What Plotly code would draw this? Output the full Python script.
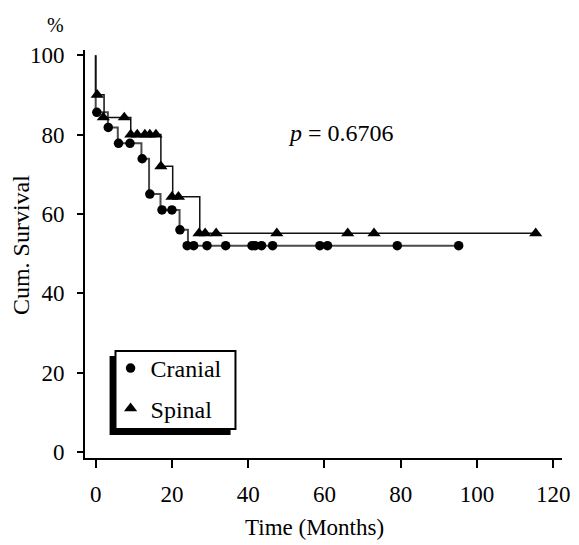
import plotly.graph_objects as go

# Kaplan-Meier step curves (time in months, cumulative survival %)
cranial_t = [0, 0, 3.2, 5.8, 12.0, 14.0, 17.0, 22.0, 24.2, 95.2]
cranial_s = [100, 85.6, 81.8, 77.8, 73.9, 65.0, 61.0, 56.0, 52.0, 52.0]
spinal_t = [0, 0, 2.2, 9.2, 17.1, 20.2, 27.3, 115.4]
spinal_s = [100, 90.0, 84.3, 80.0, 72.0, 64.3, 55.1, 55.1]

# Observation markers
cranial_mt = [0.3, 3.3, 6.0, 9.0, 12.2, 14.2, 17.4, 20.0, 22.1, 24.0, 25.7, 29.2,
              34.1, 41.0, 41.8, 43.5, 46.4, 58.8, 60.8, 79.1, 95.2]
cranial_ms = [85.6, 81.8, 77.8, 77.8, 73.9, 65.0, 61.0, 61.0, 56.0, 52.0, 52.0, 52.0,
              52.0, 52.0, 52.0, 52.0, 52.0, 52.0, 52.0, 52.0, 52.0]
spinal_mt = [0.4, 2.0, 7.5, 9.2, 10.9, 12.9, 14.2, 15.8, 17.1, 20.0, 21.7, 27.1,
             28.7, 31.6, 47.5, 66.1, 73.0, 115.4]
spinal_ms = [90.0, 84.3, 84.3, 80.0, 80.0, 80.0, 80.0, 80.0, 72.0, 64.3, 64.3, 55.1,
             55.1, 55.1, 55.1, 55.1, 55.1, 55.1]

x_ticks = [0, 20, 40, 60, 80, 100, 120]
y_ticks = [0, 20, 40, 60, 80, 100]
p_text = "<i>p</i> = 0.6706"

FONT = "Liberation Serif, Times New Roman, serif"
OFF = 8  # default page body margin
W, H = 579 - OFF, 545 - OFF
PL, PR, PT, PB = 85, 570, 50, 458  # plot area in page pixels
L, R, T, B = PL - OFF, 579 - PR, PT - OFF, 545 - PB
pw, ph = PR - PL, PB - PT


def px_x(x):
    return (x - PL) / pw


def px_y(y):
    return (PB - y) / ph


fig = go.Figure()
fig.add_trace(go.Scatter(x=cranial_t, y=cranial_s, mode="lines", line_shape="hv",
                         line=dict(color="#4a4a4a", width=2), showlegend=False,
                         hoverinfo="skip"))
fig.add_trace(go.Scatter(x=spinal_t, y=spinal_s, mode="lines", line_shape="hv",
                         line=dict(color="#111111", width=1.5), showlegend=False,
                         hoverinfo="skip"))
fig.add_trace(go.Scatter(x=cranial_mt, y=cranial_ms, mode="markers", name="Cranial",
                         legendgroup="c",
                         marker=dict(symbol="circle", size=9.5, color="black")))
fig.add_trace(go.Scatter(x=spinal_mt, y=spinal_ms, mode="markers", name="Spinal",
                         legendgroup="s",
                         marker=dict(symbol="triangle-up", size=11.5, color="black")))

axis_common = dict(showline=True, linecolor="black", linewidth=2, ticks="outside",
                   tickwidth=2, tickcolor="black", showgrid=False, zeroline=False,
                   tickfont=dict(family=FONT, size=23, color="black"), mirror=False)

fig.update_xaxes(range=[-2.8, 122.3], tickvals=x_ticks, ticklen=8,
                 ticklabelstandoff=6, **axis_common)
fig.update_yaxes(range=[-1.5, 101.3], tickvals=y_ticks, ticklen=6,
                 ticklabelstandoff=8, **axis_common)

fig.update_layout(
    width=W, height=H,
    margin=dict(l=L, r=R, t=T, b=B, pad=0),
    paper_bgcolor="white", plot_bgcolor="white",
    font=dict(family=FONT, size=23, color="black"),
    legend=dict(x=px_x(111), y=px_y(346), xanchor="left", yanchor="top",
                bgcolor="rgba(0,0,0,0)", borderwidth=0,
                traceorder="grouped", tracegroupgap=6,
                font=dict(family=FONT, size=24, color="black")),
    shapes=[
        dict(type="rect", xref="paper", yref="paper",
             x0=px_x(110), x1=px_x(233), y0=px_y(435), y1=px_y(356),
             fillcolor="black", line=dict(width=0), layer="above"),
        dict(type="rect", xref="paper", yref="paper",
             x0=px_x(116), x1=px_x(238), y0=px_y(429), y1=px_y(351),
             fillcolor="white", line=dict(color="black", width=2), layer="above"),
    ],
    annotations=[
        dict(text=p_text, xref="paper", yref="paper", x=px_x(289), y=px_y(133),
             xanchor="left", yanchor="middle", showarrow=False,
             font=dict(family=FONT, size=24)),
        dict(text="Time (Months)", xref="paper", yref="paper", x=px_x(318), y=px_y(527),
             xanchor="center", yanchor="middle", showarrow=False,
             font=dict(family=FONT, size=23)),
        dict(text="Cum. Survival", xref="paper", yref="paper", x=px_x(20), y=px_y(245),
             xanchor="center", yanchor="middle", showarrow=False, textangle=-90,
             font=dict(family=FONT, size=24)),
        dict(text="%", xref="paper", yref="paper", x=px_x(55), y=px_y(25),
             xanchor="center", yanchor="middle", showarrow=False,
             font=dict(family=FONT, size=20)),
    ],
)

fig.write_html("out.html")
